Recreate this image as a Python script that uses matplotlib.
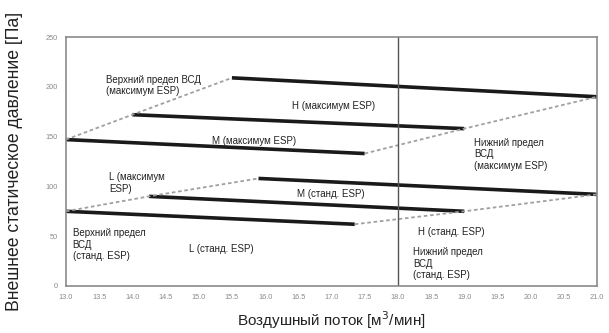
import matplotlib.pyplot as plt
import numpy as np

plt.rcParams['font.family'] = ['Liberation Sans', 'DejaVu Sans']

# fan curves: (start airflow, start pressure, end airflow, end pressure)
top_max = [15.5, 209, 21.0, 190]
h_max = [14.0, 172, 19.0, 158]
m_max = [13.0, 147, 17.5, 133]
top_std = [15.9, 108, 21.0, 92]
m_std = [14.25, 90, 19.0, 75]
l_std = [13.0, 75, 17.35, 62]

curves = [top_max, h_max, m_max, top_std, m_std, l_std]

x_ticks = np.arange(13.0, 21.01, 0.5)
y_ticks = [0, 50, 100, 150, 200, 250]

fig = plt.figure(figsize=(6.09, 3.33), dpi=100)
ax = fig.add_axes([66 / 609, 1 - 286 / 333, (597 - 66) / 609, (286 - 37) / 333])

for c in curves:
    ax.plot([c[0], c[2]], [c[1], c[3]], color='#1a1a1a', lw=2.6, solid_capstyle='butt')

# upper and lower limit lines join the curve ends
dash_kw = dict(color='#a0a0a0', lw=1.3, ls=(0, (2, 1.5)))
for group in ([m_max, h_max, top_max], [l_std, m_std, top_std]):
    ax.plot([c[0] for c in group], [c[1] for c in group], **dash_kw)
    ax.plot([c[2] for c in group], [c[3] for c in group], **dash_kw)

ax.axvline(18.0, color='#555555', lw=1.0)

ax.set_xlim(13.0, 21.0)
ax.set_ylim(0, 250)
ax.set_xticks(x_ticks, [f'{v:.1f}' for v in x_ticks])
ax.set_yticks(y_ticks, [str(v) for v in y_ticks])
ax.tick_params(labelsize=5.3, colors='#8a8a8a', length=0, pad=6)
for s in ax.spines.values():
    s.set_color('#8a8a8a')
    s.set_linewidth(1.2)

ax.set_ylabel('Внешнее статическое давление [Па]', fontsize=12.7, color='#222222', labelpad=16)
ax.set_xlabel('Воздушный поток [м$^3$/мин]', fontsize=11, color='#222222', labelpad=6)

fs = 7
tk = dict(fontsize=fs, color='#222222', linespacing=1.2)
ax.text(13.6, 212, 'Верхний предел ВСД\n(максимум ESP)', va='top', **tk)
ax.text(16.4, 181, 'H (максимум ESP)', va='center', **tk)
ax.text(15.2, 146, 'M (максимум ESP)', va='center', **tk)
ax.text(19.15, 149, 'Нижний предел\nВСД\n(максимум ESP)', va='top', **tk)
ax.text(13.65, 114, 'L (максимум\nESP)', va='top', **tk)
ax.text(16.48, 92, 'M (станд. ESP)', va='center', **tk)
ax.text(13.1, 58, 'Верхний предел\nВСД\n(станд. ESP)', va='top', **tk)
ax.text(14.85, 37, 'L (станд. ESP)', va='center', **tk)
ax.text(18.3, 54, 'H (станд. ESP)', va='center', **tk)
ax.text(18.23, 39, 'Нижний предел\nВСД\n(станд. ESP)', va='top', **tk)

fig.savefig('out.png', dpi=100)
